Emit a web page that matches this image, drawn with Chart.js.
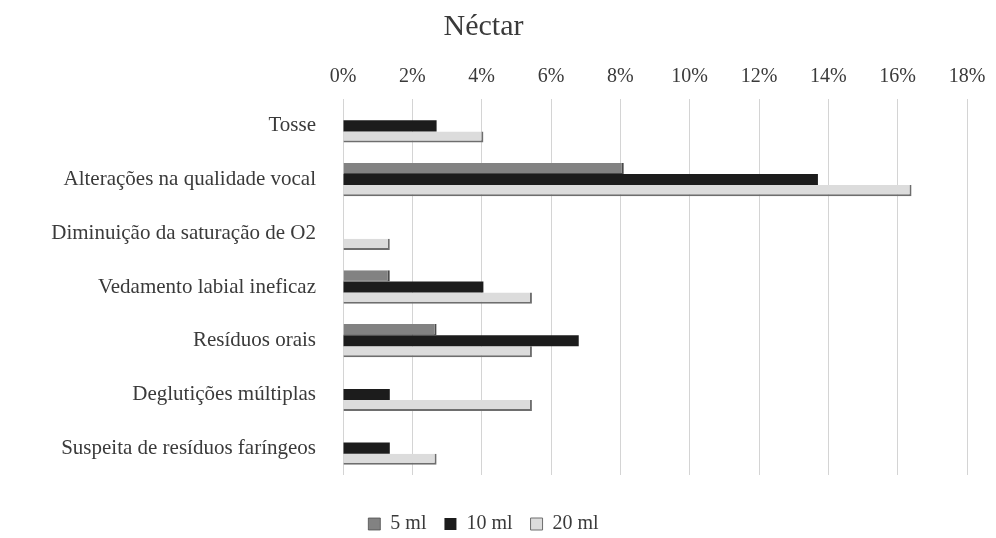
<!DOCTYPE html>
<html>
<head>
<meta charset="utf-8">
<script src="https://cdn.jsdelivr.net/npm/chart.js@4/dist/chart.umd.min.js"></script>
<style>
  html, body { margin: 0; padding: 0; background: #ffffff; }
  #wrap { width: 996px; height: 538px; position: relative; }
</style>
</head>
<body>
<div id="wrap"><canvas id="c" width="996" height="538"></canvas></div>
<script>
// Sinais observados com consistência néctar (% por volume ofertado)
const categories = [
  'Tosse',
  'Alterações na qualidade vocal',
  'Diminuição da saturação de O2',
  'Vedamento labial ineficaz',
  'Resíduos orais',
  'Deglutições múltiplas',
  'Suspeita de resíduos faríngeos'
];
const series5ml  = [0,    8.1,  0,    1.35, 2.7,  0,    0];
const series10ml = [2.7,  13.7, 0,    4.05, 6.8,  1.35, 1.35];
const series20ml = [4.05, 16.4, 1.35, 5.45, 5.45, 5.45, 2.7];
const seriesNames = ['5 ml', '10 ml', '20 ml'];
const tickValues = [0, 2, 4, 6, 8, 10, 12, 14, 16, 18];

const serif = "'Liberation Serif', 'DejaVu Serif', serif";
const textColor = '#3a3a3a';

new Chart(document.getElementById('c'), {
  type: 'bar',
  data: {
    labels: categories,
    datasets: [
      {
        label: seriesNames[0],
        data: series5ml,
        backgroundColor: '#828282',
        borderColor: '#4a4a4a',
        borderWidth: { top: 0, bottom: 1, right: 2, left: 0 },
        borderSkipped: false
      },
      {
        label: seriesNames[1],
        data: series10ml,
        backgroundColor: '#1c1c1c',
        borderColor: '#0d0d0d',
        borderWidth: 0
      },
      {
        label: seriesNames[2],
        data: series20ml,
        backgroundColor: '#dcdcdc',
        borderColor: '#6e6e6e',
        borderWidth: { top: 0, bottom: 2, right: 2, left: 0 },
        borderSkipped: false
      }
    ]
  },
  options: {
    indexAxis: 'y',
    responsive: false,
    animation: false,
    datasets: {
      bar: { categoryPercentage: 0.62, barPercentage: 1.0 }
    },
    layout: { padding: { left: 0, right: 29, top: 7, bottom: -6 } },
    scales: {
      x: {
        position: 'top',
        min: 0,
        max: 18,
        afterBuildTicks: (axis) => { axis.ticks = tickValues.map(v => ({ value: v })); },
        ticks: {
          callback: (v) => v + '%',
          color: textColor,
          font: { family: serif, size: 20 },
          padding: 10,
          maxRotation: 0
        },
        grid: { color: '#d4d4d4', lineWidth: 1, drawTicks: false },
        border: { display: false }
      },
      // empty strip that keeps the legend clear of the plot
      gap: {
        type: 'linear',
        axis: 'x',
        position: 'bottom',
        display: true,
        afterFit: (axis) => { axis.height = 21; },
        ticks: { display: false },
        grid: { display: false, drawTicks: false },
        border: { display: false }
      },
      y: {
        afterFit: (axis) => { axis.width = 343; },
        ticks: {
          color: textColor,
          font: { family: serif, size: 21 },
          padding: 27
        },
        grid: { display: false, drawTicks: false },
        border: { display: false }
      }
    },
    plugins: {
      title: {
        display: true,
        text: 'Néctar',
        color: textColor,
        font: { family: serif, size: 30, weight: 'normal' },
        padding: { top: 2, bottom: 10 }
      },
      legend: {
        position: 'bottom',
        labels: {
          color: textColor,
          font: { family: serif, size: 20, lineHeight: 1.0 },
          boxWidth: 12,
          boxHeight: 12,
          padding: 18
        }
      },
      tooltip: { enabled: false }
    }
  }
});
</script>
</body>
</html>
